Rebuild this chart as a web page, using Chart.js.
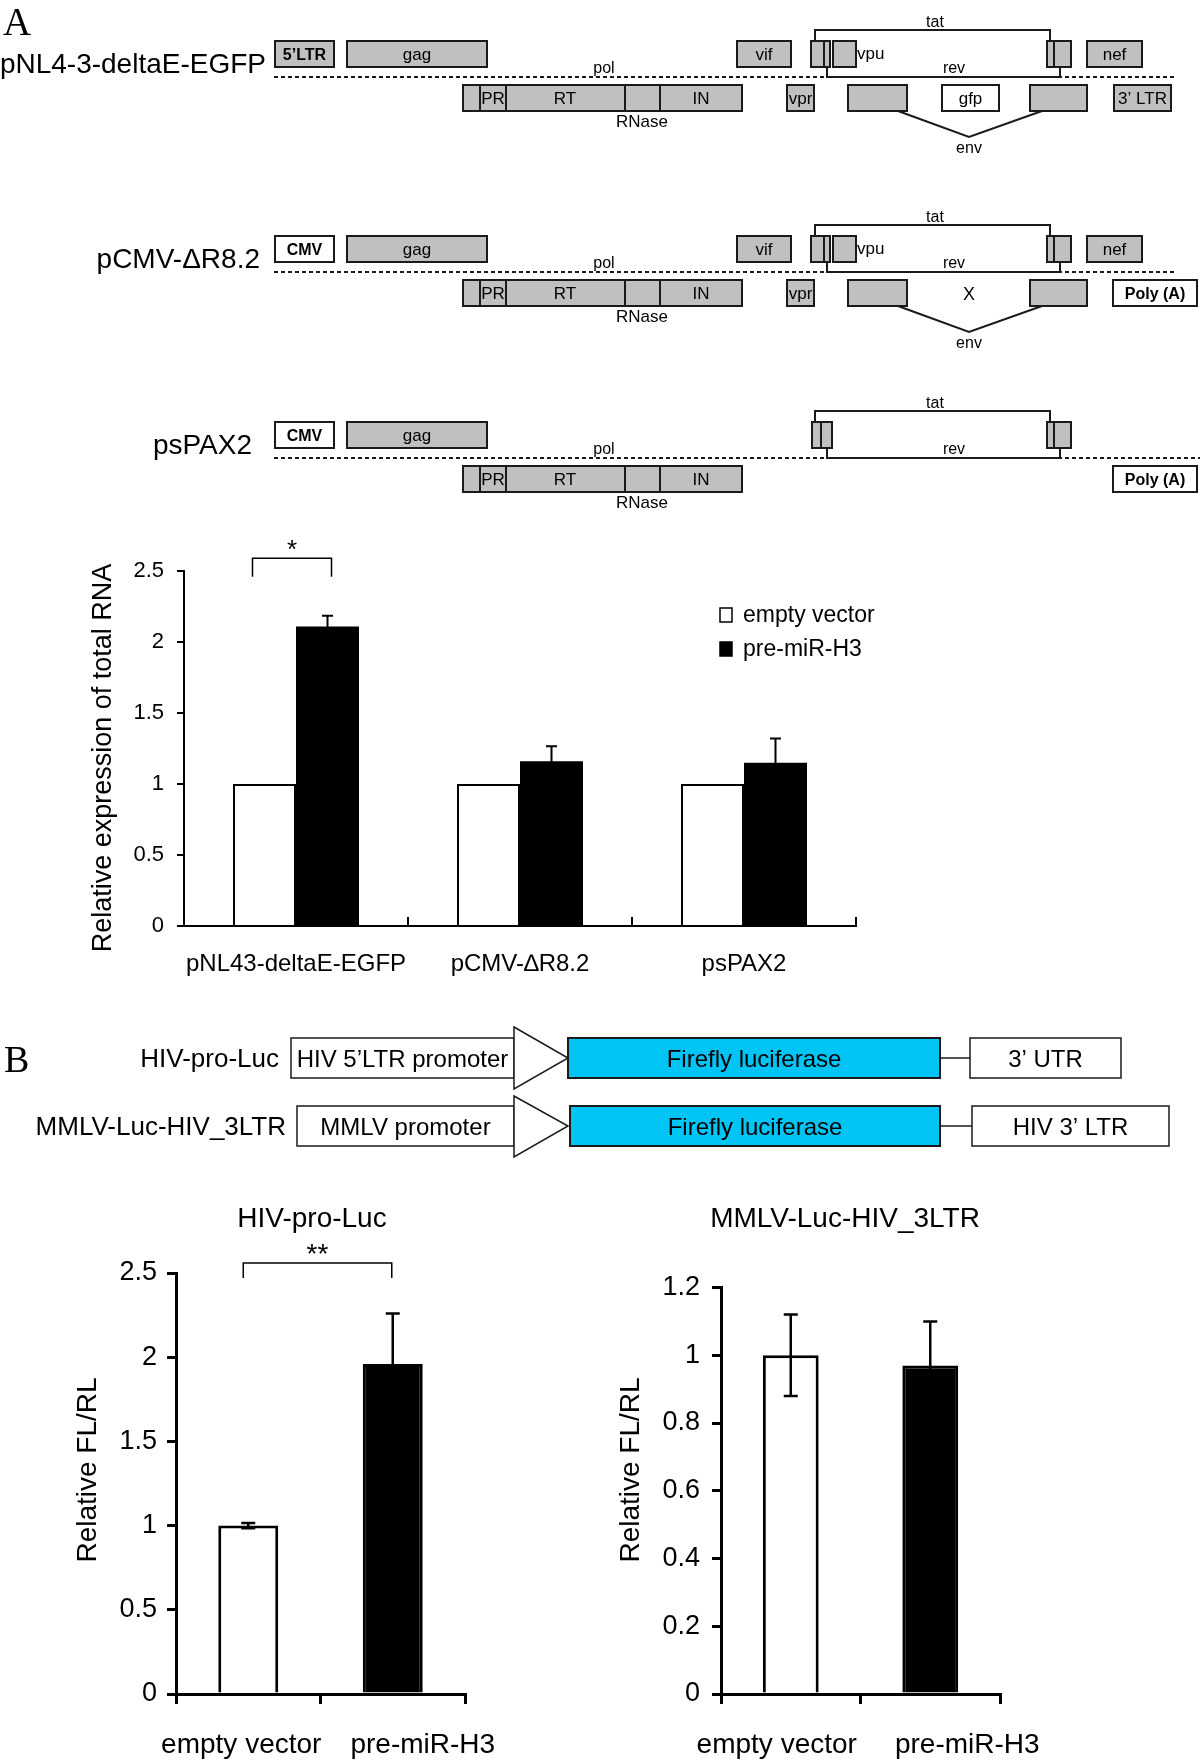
<!DOCTYPE html>
<html>
<head>
<meta charset="utf-8">
<script src="https://cdn.jsdelivr.net/npm/chart.js@4.4.1/dist/chart.umd.min.js"></script>
<style>
  html, body { margin: 0; padding: 0; background: #fff; }
  #page { position: relative; width: 1200px; height: 1762px; overflow: hidden; background: #fff; }
  #page canvas { position: absolute; }
</style>
</head>
<body>
<div id="page">
  <canvas id="schema" width="1200" height="1762" style="left:0;top:0"></canvas>
  <canvas id="chartA" width="830" height="470" style="left:60px;top:530px"></canvas>
  <canvas id="chartB1" width="450" height="572" style="left:60px;top:1190px"></canvas>
  <canvas id="chartB2" width="450" height="572" style="left:600px;top:1190px"></canvas>
</div>
<script>
// ---- data ----
const constructsA = ['pNL43-deltaE-EGFP', 'pCMV-\u2206R8.2', 'psPAX2'];
const emptyVectorA = [1, 1, 1];
const preMirA = [2.11, 1.16, 1.15];
const preMirErrA = [0.075, 0.105, 0.17];

const groupsB = ['empty vector', 'pre-miR-H3'];
const hivProLuc = [1.0, 1.96];
const hivProLucErr = [0.015, 0.30];
const mmlvLuc = [1.0, 0.97];
const mmlvLucErr = [0.12, 0.13];

const SANS = '"Liberation Sans", Arial, sans-serif';
const SERIF = '"Liberation Serif", "Times New Roman", serif';
const GRAY = '#c0c0c0';
const EDGE = '#1a1a1a';
const CYAN = '#00c4f4';

// ---- schematic drawings (plain canvas) ----
const sc = document.getElementById('schema').getContext('2d');

function text(s, x, y, size, align, opts) {
  opts = opts || {};
  sc.save();
  sc.font = (opts.bold ? 'bold ' : '') + size + 'px ' + (opts.family || SANS);
  sc.fillStyle = '#000';
  sc.textAlign = align || 'center';
  sc.textBaseline = 'alphabetic';
  if (opts.w) sc.fillText(s, x, y, opts.w); else sc.fillText(s, x, y);
  sc.restore();
}

function rect(x1, y1, x2, y2, fill, lw) {
  sc.save();
  sc.fillStyle = fill;
  sc.fillRect(x1, y1, x2 - x1, y2 - y1);
  sc.strokeStyle = EDGE;
  sc.lineWidth = lw || 2;
  sc.strokeRect(x1, y1, x2 - x1, y2 - y1);
  sc.restore();
}

function line(pts, lw, dash) {
  sc.save();
  sc.strokeStyle = EDGE;
  sc.lineWidth = lw || 2;
  if (dash) sc.setLineDash(dash);
  sc.beginPath();
  pts.forEach((p, i) => i ? sc.lineTo(p[0], p[1]) : sc.moveTo(p[0], p[1]));
  sc.stroke();
  sc.restore();
}

function labelBox(x1, y1, x2, y2, fill, label, size, bold) {
  rect(x1, y1, x2, y2, fill);
  if (label) text(label, (x1 + x2) / 2, (y1 + y2) / 2 + size * 0.36, size, 'center', { bold: bold, w: x2 - x1 - 3 });
}

function hivRow(T, o) {
  text(o.name, o.nameX, T + 32, 28, 'right');
  labelBox(275, T, 334, T + 26, o.promFill, o.prom, 16, true);
  labelBox(347, T, 487, T + 26, GRAY, 'gag', 17);
  line([[274, T + 36], [o.dashEnd, T + 36]], 2, [4, 3]);
  text('pol', 604, T + 32, 16);

  // pol polyprotein
  rect(463, T + 44, 742, T + 70, GRAY);
  [480, 506, 625, 660].forEach(x => line([[x, T + 44], [x, T + 70]], 2));
  text('PR', 493, T + 63, 17, 'center', { w: 24 });
  text('RT', 565, T + 63, 17);
  text('IN', 701, T + 63, 17);
  text('RNase', 642, T + 86, 17);

  // tat / rev exons
  rect(o.tat1[0], T, o.tat1[1], T + 26, GRAY);
  line([[o.tat1[2], T], [o.tat1[2], T + 26]], 2);
  rect(1047, T, 1071, T + 26, GRAY);
  line([[1054, T], [1054, T + 26]], 2);
  line([[815, T], [815, T - 11], [1050, T - 11], [1050, T]], 2);
  text('tat', 935, T - 14, 16);
  line([[827, T + 26], [827, T + 36], [1060, T + 36], [1060, T + 26]], 2);
  text('rev', 954, T + 32, 16);

  if (o.accessory) {
    labelBox(737, T, 791, T + 26, GRAY, 'vif', 17);
    rect(833, T, 856, T + 26, GRAY);
    text('vpu', 857, T + 18, 17, 'left');
    labelBox(1087, T, 1142, T + 26, GRAY, 'nef', 17);
    labelBox(787, T + 44, 814, T + 70, GRAY, 'vpr', 17);
    rect(848, T + 44, 907, T + 70, GRAY);
    rect(1030, T + 44, 1087, T + 70, GRAY);
    line([[898, T + 70], [969, T + 96], [1042, T + 70]], 2);
    text('env', 969, T + 112, 16);
    if (o.gfp) labelBox(942, T + 44, 999, T + 70, '#ffffff', 'gfp', 17);
    else text('X', 969, T + 64, 18);
  }
  labelBox(o.end[0], T + 44, o.end[1], T + 70, o.end[2], o.end[3], o.end[4], o.end[5]);
}

text('A', 3, 35, 39, 'left', { family: SERIF });
hivRow(41, { name: 'pNL4-3-deltaE-EGFP', nameX: 266, prom: '5\u2019LTR', promFill: GRAY, dashEnd: 1174,
  tat1: [811, 830, 824], accessory: true, gfp: true, end: [1114, 1171, GRAY, '3\u2019 LTR', 17, false] });
hivRow(236, { name: 'pCMV-\u0394R8.2', nameX: 260, prom: 'CMV', promFill: '#ffffff', dashEnd: 1174,
  tat1: [811, 830, 824], accessory: true, gfp: false, end: [1113, 1197, '#ffffff', 'Poly (A)', 16, true] });
hivRow(422, { name: 'psPAX2', nameX: 252, prom: 'CMV', promFill: '#ffffff', dashEnd: 1200,
  tat1: [812, 832, 821], accessory: false, end: [1113, 1197, '#ffffff', 'Poly (A)', 16, true] });

// panel B reporter constructs
function lucRow(name, nameR, promX, top, bot, triTop, triBot, fireX, utrX, utrLabel, prom) {
  const cy = (top + bot) / 2;
  text(name, nameR, cy + 9, 26, 'right', { w: nameR - 32 });
  rect(promX, top, 514, bot, '#ffffff', 1.5);
  text(prom, (promX + 514) / 2, cy + 8.5, 24, 'center', { w: 514 - promX - 4 });
  sc.save();
  sc.fillStyle = '#fff'; sc.strokeStyle = EDGE; sc.lineWidth = 1.5;
  sc.beginPath(); sc.moveTo(514, triTop); sc.lineTo(568, cy); sc.lineTo(514, triBot); sc.closePath();
  sc.fill(); sc.stroke(); sc.restore();
  rect(fireX, top, 940, bot, CYAN, 2);
  text('Firefly luciferase', (fireX + 940) / 2, cy + 8.5, 24);
  line([[940, cy], [utrX[0], cy]], 1.5);
  rect(utrX[0], top, utrX[1], bot, '#ffffff', 1.5);
  text(utrLabel, (utrX[0] + utrX[1]) / 2, cy + 8.5, 24);
}
text('B', 4, 1072, 38, 'left', { family: SERIF });
lucRow('HIV-pro-Luc', 279, 291, 1038, 1078, 1027, 1089, 568, [970, 1121], '3\u2019 UTR', 'HIV 5\u2019LTR promoter');
lucRow('MMLV-Luc-HIV_3LTR', 286, 297, 1106, 1146, 1096, 1157, 570, [972, 1169], 'HIV 3\u2019 LTR', 'MMLV promoter');

// ---- Chart.js plugins ----
const errorBars = {
  id: 'errorBars',
  afterDatasetsDraw(chart, args, o) {
    const { ctx } = chart;
    const y = chart.scales.y;
    chart.data.datasets.forEach((ds, di) => {
      if (!ds.errors) return;
      chart.getDatasetMeta(di).data.forEach((bar, i) => {
        const e = ds.errors[i];
        if (e == null) return;
        const v = ds.data[i];
        const yt = y.getPixelForValue(v + e), yb = y.getPixelForValue(v - e);
        const c = (o.cap || 12) / 2;
        ctx.save();
        ctx.strokeStyle = '#000';
        ctx.lineWidth = o.width || 2;
        ctx.beginPath();
        ctx.moveTo(bar.x, yb); ctx.lineTo(bar.x, yt);
        ctx.moveTo(bar.x - c, yt); ctx.lineTo(bar.x + c, yt);
        ctx.moveTo(bar.x - c, yb); ctx.lineTo(bar.x + c, yb);
        ctx.stroke();
        ctx.restore();
      });
    });
  }
};

const sigBracket = {
  id: 'sigBracket',
  afterDraw(chart, args, o) {
    if (!o.a) return;
    const { ctx } = chart;
    const y = chart.scales.y;
    const x1 = chart.getDatasetMeta(o.a[0]).data[o.a[1]].x + (o.dxA || 0);
    const x2 = chart.getDatasetMeta(o.b[0]).data[o.b[1]].x + (o.dxB || 0);
    const yt = y.getPixelForValue(o.top), yl = y.getPixelForValue(o.leg);
    ctx.save();
    ctx.strokeStyle = '#000';
    ctx.lineWidth = 1.5;
    ctx.beginPath();
    ctx.moveTo(x1, yl); ctx.lineTo(x1, yt); ctx.lineTo(x2, yt); ctx.lineTo(x2, yl);
    ctx.stroke();
    ctx.fillStyle = '#000';
    ctx.font = o.size + 'px ' + SANS;
    ctx.textAlign = 'center';
    ctx.fillText(o.mark, (x1 + x2) / 2, yt + (o.markDy || 0));
    ctx.restore();
  }
};

const boxLegend = {
  id: 'boxLegend',
  afterDraw(chart, args, o) {
    if (o.x == null) return;
    const { ctx } = chart;
    chart.data.datasets.forEach((ds, i) => {
      const by = o.y + i * o.gap;
      ctx.save();
      ctx.fillStyle = ds.backgroundColor;
      ctx.fillRect(o.x, by - 14, 12, 14);
      ctx.strokeStyle = '#000';
      ctx.lineWidth = 1.5;
      ctx.strokeRect(o.x, by - 14, 12, 14);
      ctx.fillStyle = '#000';
      ctx.font = o.size + 'px ' + SANS;
      ctx.textAlign = 'left';
      ctx.fillText(ds.label, o.x + 23, by);
      ctx.restore();
    });
  }
};

// chart title and rotated y-axis title, placed in canvas coordinates
const chartText = {
  id: 'chartText',
  afterDraw(chart, args, o) {
    const { ctx } = chart;
    ctx.save();
    ctx.fillStyle = '#000';
    ctx.textAlign = 'center';
    if (o.title) {
      ctx.font = o.title.size + 'px ' + SANS;
      ctx.fillText(o.title.text, o.title.x, o.title.y);
    }
    if (o.yTitle) {
      ctx.font = o.yTitle.size + 'px ' + SANS;
      ctx.textBaseline = 'middle';
      ctx.translate(o.yTitle.x, o.yTitle.y);
      ctx.rotate(-Math.PI / 2);
      ctx.fillText(o.yTitle.text, 0, 0);
    }
    ctx.restore();
  }
};

const shiftedLabels = {
  id: 'shiftedLabels',
  afterDraw(chart, args, o) {
    if (!o.shifts) return;
    const { ctx } = chart;
    const x = chart.scales.x;
    ctx.save();
    ctx.fillStyle = '#000';
    ctx.font = o.size + 'px ' + SANS;
    ctx.textAlign = 'center';
    ctx.textBaseline = 'middle';
    x.getLabels().forEach((lab, i) => {
      ctx.fillText(lab, x.getPixelForValue(i) + o.shifts[i], o.y);
    });
    ctx.restore();
  }
};

Chart.defaults.font.family = SANS;
Chart.defaults.color = '#000';
const plainNumber = v => String(+v.toFixed(1));

// ---- panel A bar chart ----
new Chart(document.getElementById('chartA'), {
  type: 'bar',
  data: {
    labels: constructsA,
    datasets: [
      { label: 'empty vector', data: emptyVectorA, backgroundColor: '#ffffff', borderColor: '#000', borderWidth: 2 },
      { label: 'pre-miR-H3', data: preMirA, errors: preMirErrA, backgroundColor: '#000000', borderColor: '#000', borderWidth: 0 }
    ]
  },
  options: {
    responsive: false,
    animation: false,
    devicePixelRatio: 1,
    categoryPercentage: 0.5625,
    barPercentage: 1,
    layout: { padding: { left: 0, right: 34, top: 41, bottom: 0 } },
    plugins: {
      legend: { display: false },
      tooltip: { enabled: false },
      errorBars: { cap: 11, width: 2 },
      sigBracket: { a: [0, 0], b: [1, 0], dxA: -12, dxB: 4, top: 2.59, leg: 2.46, mark: '*', size: 26, markDy: 0 },
      boxLegend: { x: 660, y: 92, gap: 34, size: 23 },
      chartText: { yTitle: { text: 'Relative expression of total RNA', x: 44, y: 228, size: 27 } }
    },
    scales: {
      x: {
        afterFit(s) { s.height = 74; },
        ticks: { font: { size: 24 }, padding: 33, color: '#000', maxRotation: 0 },
        grid: { offset: true, drawOnChartArea: false, color: '#000', lineWidth: 2, tickLength: -9 },
        border: { color: '#000', width: 2 }
      },
      y: {
        min: 0,
        max: 2.5,
        afterFit(s) { s.width = 124; },
        ticks: { stepSize: 0.5, font: { size: 22 }, padding: 13, color: '#000', callback: plainNumber },
        grid: { drawOnChartArea: false, color: '#000', lineWidth: 2, tickLength: 7 },
        border: { color: '#000', width: 2 }
      }
    }
  },
  plugins: [errorBars, sigBracket, boxLegend, chartText]
});

// ---- panel B bar charts ----
function luciferaseChart(id, title, values, errors, o) {
  return new Chart(document.getElementById(id), {
    type: 'bar',
    data: {
      labels: groupsB,
      datasets: [{
        data: values,
        errors: errors,
        backgroundColor: ['#ffffff', '#000000'],
        borderColor: '#000',
        borderWidth: 3,
        categoryPercentage: 1,
        barPercentage: o.barPct
      }]
    },
    options: {
      responsive: false,
      animation: false,
      devicePixelRatio: 1,
      layout: { padding: { left: 0, right: o.padRight, top: o.top, bottom: 0 } },
      plugins: {
        legend: { display: false },
        tooltip: { enabled: false },
        errorBars: { cap: 14, width: 2.5 },
        sigBracket: o.sig || {},
        chartText: {
          title: { text: title, x: o.titleX, y: 37, size: 28 },
          yTitle: { text: 'Relative FL/RL', x: o.yTitleX, y: 280, size: 28 }
        },
        shiftedLabels: { shifts: o.shifts, y: 555, size: 28 }
      },
      scales: {
        x: {
          afterFit(s) { s.height = 68; },
          ticks: { display: false },
          grid: { offset: true, drawOnChartArea: false, color: '#000', lineWidth: 3, tickLength: 10 },
          border: { color: '#000', width: 3 }
        },
        y: {
          min: 0,
          max: o.max,
          afterFit(s) { s.width = o.axisW; },
          ticks: { stepSize: o.step, font: { size: 27 }, padding: o.tickPad, color: '#000', callback: plainNumber },
          grid: { drawOnChartArea: false, color: '#000', lineWidth: 3, tickLength: 9 },
          border: { color: '#000', width: 3 }
        }
      }
    },
    plugins: [errorBars, sigBracket, chartText, shiftedLabels]
  });
}

luciferaseChart('chartB1', 'HIV-pro-Luc', hivProLuc, hivProLucErr, {
  barPct: 0.415, padRight: 45, top: 83, axisW: 116, max: 2.5, step: 0.5, tickPad: 10,
  titleX: 252, yTitleX: 28, shifts: [-7, 30],
  sig: { a: [0, 0], b: [0, 1], dxA: -5, dxB: -1, top: 2.56, leg: 2.47, mark: '**', size: 28, markDy: 0 }
});

luciferaseChart('chartB2', 'MMLV-Luc-HIV_3LTR', mmlvLuc, mmlvLucErr, {
  barPct: 0.40, padRight: 50, top: 97.5, axisW: 121, max: 1.2, step: 0.2, tickPad: 12,
  titleX: 245, yTitleX: 31, shifts: [-14, 37]
});
</script>
</body>
</html>
